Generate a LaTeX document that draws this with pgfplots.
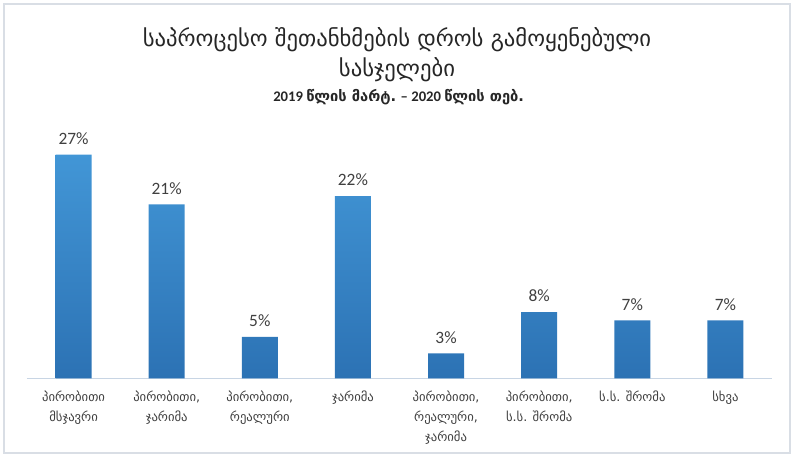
\documentclass[border=0pt]{standalone}
\usepackage{fontspec}
\setmainfont{Carlito}
\newfontfamily\geo[Script=Georgian]{DejaVu Sans}
\usepackage{pgfplots}
\pgfplotsset{compat=1.18}

\definecolor{barTop}{RGB}{66,150,214}
\definecolor{barBot}{RGB}{44,114,180}
\definecolor{frameC}{RGB}{217,222,229}
\definecolor{axisC}{RGB}{200,213,228}
\definecolor{txt}{RGB}{64,64,64}
\definecolor{titleC}{RGB}{38,38,38}

\begin{document}
\begin{tikzpicture}
% outer frame of the chart area
\draw[frameC, line width=1pt] (3pt,2.25pt) rectangle (592.5pt,339pt);

\begin{axis}[
    at={(20.25pt,58.3pt)}, anchor=south west,
    scale only axis,
    width=558.75pt, height=186.3pt,
    xmin=-0.5, xmax=7.5,
    ymin=0, ymax=30,
    axis y line=none,
    axis x line*=bottom,
    x axis line style={axisC, line width=1pt, -},
    xtick=data,
    major tick length=0pt,
    xticklabels={
        {პირობითი\\მსჯავრი},
        {პირობითი,\\ჯარიმა},
        {პირობითი,\\რეალური},
        {ჯარიმა},
        {პირობითი,\\რეალური,\\ჯარიმა},
        {პირობითი,\\ს.ს. შრომა},
        {ს.ს. შრომა},
        {სხვა}},
    xticklabel style={align=center, text=txt,
        font=\geo\fontsize{9.5}{15}\selectfont, yshift=-6pt},
    ybar, bar width=27pt,
    /pgf/number format/assume math mode=true,
    nodes near coords={\pgfmathprintnumber{\pgfplotspointmeta}\%},
    every node near coord/.append style={text=txt,
        font=\fontsize{13}{15}\selectfont, yshift=4pt},
    clip=false,
]
\addplot[draw=none, top color=barTop, bottom color=barBot]
    coordinates {(0,27) (1,21) (2,5) (3,22) (4,3) (5,8) (6,7) (7,7)};
\end{axis}

\node[text=titleC, font=\geo\fontsize{17}{19}\selectfont] at (297.75pt,312pt)
    {საპროცესო შეთანხმების დროს გამოყენებული};
\node[text=titleC, font=\geo\fontsize{17}{19}\selectfont] at (297.75pt,289.5pt)
    {სასჯელები};
\node[text=titleC, font=\bfseries\fontsize{11}{13}\selectfont] at (299pt,269.25pt)
    {2019 {\geo წლის მარტ.} – 2020 {\geo წლის თებ.}};

\pgfresetboundingbox
\path (0,0) rectangle (593.25pt,342pt);
\end{tikzpicture}
\end{document}
